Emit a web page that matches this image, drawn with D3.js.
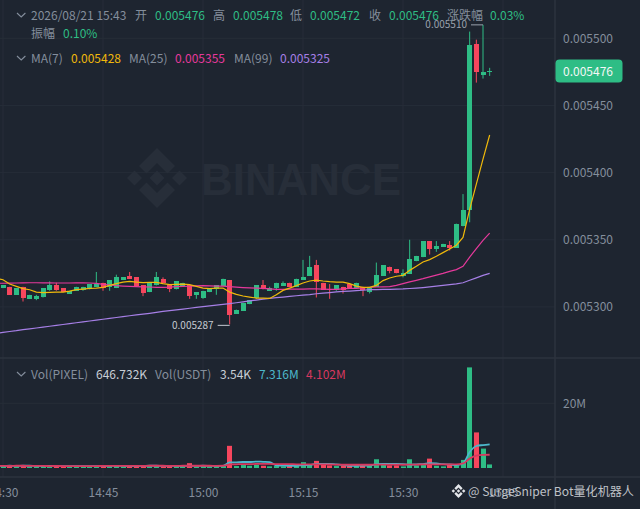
<!DOCTYPE html>
<html><head><meta charset="utf-8">
<script src="https://d3js.org/d3.v7.min.js"></script>
<style>
html,body{margin:0;padding:0;background:#1e2530;overflow:hidden}
svg{display:block}
text{font-family:"Noto Sans CJK SC","Noto Sans",sans-serif;font-size:12px}
</style></head><body><svg id="c" width="640" height="509"></svg>
<script>
// Prices are in units of 0.000001, one candle per minute from 14:29.
const candleOpen=[5316,5314,5315,5309,5315,5306,5306,5307,5312,5316,
5314,5310,5312,5313,5313,5315,5318,5315,5314,5320,
5323,5322,5316,5311,5316,5321,5316,5313,5316,5316,
5309,5307,5311,5313,5316,5320,5295,5297,5302,5306,
5316,5312,5314,5316,5318,5315,5320,5323,5331,5318,
5313,5312,5315,5317,5314,5315,5311,5315,5323,5330,
5328,5323,5325,5334,5337,5349,5343,5345,5346,5344,
5360,5372,5496,5473,5476];
const candleClose=[5316,5316,5309,5314,5307,5309,5308,5314,5316,5312,
5311,5312,5315,5315,5317,5317,5314,5320,5322,5322,
5321,5315,5310,5318,5322,5318,5313,5319,5318,5308,
5311,5312,5314,5316,5321,5294,5298,5303,5305,5316,
5313,5314,5318,5318,5315,5321,5322,5330,5318,5313,
5312,5316,5313,5314,5318,5313,5314,5324,5331,5327,
5325,5325,5336,5338,5349,5343,5345,5347,5344,5362,
5372,5495,5475,5475,5476];
const candleHigh=[5317,5316,5315,5314,5315,5309,5309,5314,5319,5318,
5314,5312,5315,5315,5317,5326,5318,5320,5324,5322,
5326,5322,5316,5318,5326,5322,5316,5319,5318,5316,
5311,5312,5314,5316,5321,5320,5298,5303,5305,5316,
5320,5315,5318,5319,5318,5321,5335,5338,5335,5318,
5317,5316,5315,5317,5318,5315,5314,5333,5331,5330,
5328,5328,5350,5338,5349,5349,5349,5347,5349,5362,
5384,5505,5499,5510,5478];
const candleLow=[5315,5314,5309,5309,5304,5306,5305,5307,5312,5312,
5311,5310,5312,5312,5313,5315,5312,5312,5314,5320,
5321,5315,5308,5311,5316,5318,5311,5313,5316,5306,
5306,5306,5311,5309,5316,5287,5295,5297,5302,5306,
5313,5312,5312,5316,5315,5315,5320,5323,5307,5313,
5306,5312,5310,5314,5314,5308,5310,5315,5323,5325,
5325,5322,5325,5334,5337,5339,5341,5345,5342,5344,
5360,5363,5467,5470,5472];
const ma7=[5321.3,5320.2,5317.0,5315.3,5313.6,5312.8,5311.0,5310.6,5310.8,5311.0,
5311.0,5311.8,5312.8,5313.3,5313.8,5314.0,5314.6,5316.0,5317.3,5318.5,
5319.0,5318.5,5318.1,5318.3,5318.3,5317.3,5316.6,5316.8,5317.0,5316.6,
5315.3,5314.0,5313.6,5314.0,5314.0,5311.0,5309.3,5308.1,5307.3,5306.6,
5306.6,5306.3,5309.1,5312.3,5314.0,5315.8,5317.8,5319.3,5320.0,5319.3,
5318.8,5318.5,5318.5,5317.3,5315.5,5314.6,5314.6,5316.0,5319.6,5321.5,
5322.8,5323.5,5327.2,5330.2,5333.4,5335.2,5337.7,5340.4,5343.1,5345.9,
5351.7,5372.6,5391.4,5410.0,5428.0];
const ma25=[5317.6,5317.6,5317.7,5317.8,5317.9,5318.0,5318.0,5317.9,5317.9,5317.8,
5317.8,5317.8,5317.9,5317.9,5317.8,5317.5,5316.8,5316.3,5315.8,5315.5,
5315.3,5315.1,5314.9,5314.8,5314.6,5314.6,5314.7,5315.1,5315.3,5315.4,
5315.7,5315.8,5315.7,5315.5,5315.5,5315.1,5314.7,5314.4,5314.2,5314.0,
5313.8,5313.4,5313.0,5313.0,5313.2,5313.3,5313.3,5313.4,5313.4,5313.3,
5313.0,5313.0,5313.4,5313.8,5313.8,5314.2,5314.6,5314.8,5314.9,5315.1,
5316.0,5317.3,5318.6,5319.8,5321.0,5322.4,5323.7,5325.0,5326.5,5327.8,
5330.2,5337.1,5343.4,5349.6,5355.0];
const ma99=[5280.4,5281.0,5281.7,5282.3,5283.1,5283.7,5284.3,5285.0,5285.6,5286.3,
5286.9,5287.5,5288.2,5288.9,5289.5,5290.2,5290.8,5291.4,5292.1,5292.7,
5293.4,5294.0,5294.6,5295.2,5295.9,5296.6,5297.2,5297.8,5298.4,5299.0,
5299.6,5300.2,5300.8,5301.3,5301.9,5302.5,5303.1,5303.8,5304.5,5305.1,
5305.8,5306.4,5306.9,5307.3,5307.8,5308.3,5308.8,5309.2,5309.8,5310.2,
5310.7,5311.2,5311.5,5311.8,5312.1,5312.4,5312.8,5312.9,5313.1,5313.1,
5313.3,5313.4,5313.7,5314.0,5314.4,5314.9,5315.4,5316.0,5316.6,5317.2,
5318.0,5319.8,5321.6,5323.5,5325.0];
// Volume in millions of USDT
const volume=[.5,.6,.7,.5,.9,.5,.4,.6,.6,.5,
.5,.4,.6,.4,.5,.6,.7,.6,.7,.4,
.5,.6,.8,.6,.6,.4,.6,.6,.4,1.5,
.4,.6,.5,.5,.6,6.85,.6,.9,.7,1,
.7,.5,.6,.5,.8,.9,1.8,1,2.2,1,
.8,.6,.7,.8,.6,.9,.7,2.7,1,.8,
.8,.5,2.7,.8,.9,2.9,.7,.5,1,.8,
2.5,31.1,11,6,1.1];
const volMaFast=[.65,.65,.7,.65,.7,.7,.6,.6,.65,.6,
.6,.55,.55,.6,.55,.55,.6,.65,.65,.65,
.6,.6,.65,.7,.7,.65,.65,.65,.6,.7,
.65,.7,.65,.6,.65,1.7,1.75,1.85,1.85,2,
1.9,1.8,.85,.75,.7,.7,.9,.95,1.3,1.3,
1.3,1.1,.95,.7,.7,.75,.75,1.2,1.25,1.25,
1.25,1.2,1,1.15,1.2,1.5,1.4,1.2,1.1,.9,
1.4,4.9,6.8,7.1,7.32];
const volMaSlow=[.65,.65,.65,.7,.7,.65,.65,.65,.6,.65,
.6,.6,.6,.6,.6,.6,.65,.65,.65,.65,
.65,.65,.65,.7,.7,.7,.65,.65,.7,.7,
.7,.7,.7,.65,.7,1.1,1.15,1.2,1.2,1.25,
1.25,1.25,1.2,1.2,1.2,1.15,1.15,1.15,1.15,1.1,
1.1,1.05,1,1,1,1,1,1.05,1.05,1.05,
1.05,1,1.05,1.05,1.1,1.1,1.1,1.1,1.1,1.1,
1.4,2.9,3.8,4.05,4.10];
const priceTicks=[5300,5350,5400,5450,5500];
const volumeTicks=[20];
const lastPrice=5476, lowMark=5287, highMark=5510;
const startMinute=Date.UTC(2026,7,21,14,29);
const times=candleOpen.map((_,i)=>new Date(startMinute+i*60000));

const GRID="#262d38",SEP="#2c333e",MUTED="#848e9c",UP="#2ebd85",DOWN="#f6465d",
 YEL="#f0b90b",PINK="#e5399b",PURP="#a67fe6",CY="#4db8cb",CR="#d8385f",LIGHT="#c9ced6";

const svg=d3.select("#c");
const x=d3.scaleUtc().domain([new Date(Date.UTC(2026,7,21,14,30)),new Date(Date.UTC(2026,7,21,15,45))]).range([3,503]);
const y=d3.scaleLinear().domain([5300,5500]).range([306.9,38.3]);
const v=d3.scaleLinear().domain([0,20]).range([468,403.3]);
const timeTicks=d3.utcMinute.every(15).range(new Date(Date.UTC(2026,7,21,14,30)),new Date(Date.UTC(2026,7,21,15,46)));

// grid
const g=svg.append("g");
g.selectAll(".gv").data(timeTicks).join("line").attr("x1",d=>x(d)).attr("x2",d=>x(d)).attr("y1",0).attr("y2",477).attr("stroke",GRID);
g.selectAll(".gp").data(priceTicks).join("line").attr("x1",0).attr("x2",555).attr("y1",d=>y(d)).attr("y2",d=>y(d)).attr("stroke",GRID);
g.selectAll(".gq").data(volumeTicks).join("line").attr("x1",0).attr("x2",555).attr("y1",d=>v(d)).attr("y2",d=>v(d)).attr("stroke",GRID);

// logo
function logo(parent,cx,cy,s,fill,op){
 const polys=[[[0,-30],[18,-12],[10.5,-4.5],[0,-15],[-10.5,-4.5],[-18,-12]],
  [[0,30],[18,12],[10.5,4.5],[0,15],[-10.5,4.5],[-18,12]],
  [[0,-7.5],[7.5,0],[0,7.5],[-7.5,0]],[[22.5,-7.5],[30,0],[22.5,7.5],[15,0]],[[-22.5,-7.5],[-15,0],[-22.5,7.5],[-30,0]]];
 const gg=parent.append("g").attr("transform",`translate(${cx},${cy}) scale(${s})`).attr("fill",fill).attr("opacity",op);
 polys.forEach(p=>gg.append("polygon").attr("points",p.map(q=>q.join(",")).join(" ")));
}
logo(svg,157,178,1,"#272e39",1);
svg.append("text").attr("x",201).attr("y",195).text("BINANCE").attr("fill","#272e39")
 .style("font-family","'Liberation Sans'").style("font-weight","700").style("font-size","45px")
 .attr("textLength",200).attr("lengthAdjust","spacingAndGlyphs");

// separators
svg.append("line").attr("x1",0).attr("x2",640).attr("y1",358).attr("y2",358).attr("stroke",SEP).attr("stroke-width",1.5);
svg.append("line").attr("x1",0).attr("x2",640).attr("y1",477).attr("y2",477).attr("stroke",SEP).attr("stroke-width",1.5);
svg.append("line").attr("x1",555).attr("x2",555).attr("y1",0).attr("y2",509).attr("stroke",SEP).attr("stroke-width",1.5);

// axes
function styleAxis(s){s.select(".domain").remove();s.selectAll("line").remove();s.selectAll("text").attr("fill",MUTED).style("font-size","12px")}
svg.append("g").attr("transform","translate(555,0)").call(d3.axisRight(y).tickValues(priceTicks).tickSize(0).tickPadding(8).tickFormat(d=>(d/1e6).toFixed(6))).call(styleAxis);
svg.append("g").attr("transform","translate(555,0)").call(d3.axisRight(v).tickValues(volumeTicks).tickSize(0).tickPadding(8).tickFormat(d=>d+"M")).call(styleAxis);
svg.append("g").attr("transform","translate(0,488)").call(d3.axisBottom(x).tickValues(timeTicks).tickSize(0).tickPadding(0).tickFormat(d3.utcFormat("%H:%M"))).call(styleAxis);

// volume
const idx=d3.range(times.length);
svg.append("g").selectAll("rect").data(idx).join("rect")
 .attr("x",i=>Math.round(x(times[i])-2.5)).attr("width",5)
 .attr("y",i=>v(volume[i])).attr("height",i=>v(0)-v(volume[i]))
 .attr("fill",i=>candleClose[i]>=candleOpen[i]?UP:DOWN);
const volLine=a=>d3.line().x((_,i)=>x(times[i])).y(d=>v(d)).curve(d3.curveMonotoneX)(a);
svg.append("path").attr("d",volLine(volMaFast)).attr("fill","none").attr("stroke",CY).attr("stroke-width",1.8);
svg.append("path").attr("d",volLine(volMaSlow)).attr("fill","none").attr("stroke",CR).attr("stroke-width",1.8);

// candles
const col=i=>candleClose[i]>=candleOpen[i]?UP:DOWN;
const cg=svg.append("g");
cg.selectAll(".w").data(idx).join("line").attr("x1",i=>x(times[i])).attr("x2",i=>x(times[i]))
 .attr("y1",i=>y(candleHigh[i])).attr("y2",i=>y(candleLow[i])).attr("stroke",col).attr("stroke-width",1);
cg.selectAll(".b").data(idx).join("rect").attr("x",i=>Math.round(x(times[i])-2.5)).attr("width",5)
 .attr("y",i=>Math.round(y(Math.max(candleOpen[i],candleClose[i]))))
 .attr("height",i=>Math.max(1,Math.round(Math.abs(y(candleOpen[i])-y(candleClose[i])))))
 .attr("fill",col);

// moving averages
const maLine=a=>d3.line().x((_,i)=>x(times[i])).y(d=>y(d))(a);
[[ma99,PURP],[ma25,PINK],[ma7,YEL]].forEach(([a,c])=>svg.append("path").attr("d",maLine(a)).attr("fill","none").attr("stroke",c).attr("stroke-width",1.2));

// high/low marks
const hi=candleHigh.indexOf(highMark), lo=candleLow.indexOf(lowMark);
svg.append("line").attr("x1",x(times[hi])-12).attr("x2",x(times[hi])).attr("y1",y(highMark)).attr("y2",y(highMark)).attr("stroke","#9aa1ac");
svg.append("text").attr("x",x(times[hi])-16).attr("y",y(highMark)+3).attr("text-anchor","end").attr("fill","#9aa1ac").style("font-size","10px").text((highMark/1e6).toFixed(6));
svg.append("line").attr("x1",x(times[lo])-12).attr("x2",x(times[lo])).attr("y1",y(lowMark)+1).attr("y2",y(lowMark)+1).attr("stroke","#c4c9d1");
svg.append("text").attr("x",x(times[lo])-16).attr("y",y(lowMark)+5).attr("text-anchor","end").attr("fill","#c4c9d1").style("font-size","10px").text((lowMark/1e6).toFixed(6));

// price tag
svg.append("rect").attr("x",555.5).attr("y",59.5).attr("width",67).attr("height",23).attr("rx",4).attr("fill",UP);
svg.append("text").attr("x",563).attr("y",75.5).attr("fill","#f4f7f6").text((lastPrice/1e6).toFixed(6));

// header
function t(px,py,s,c){svg.append("text").attr("x",px).attr("y",py).attr("fill",c).text(s)}
function chev(py){svg.append("path").attr("d",`M17 ${py-2}L21.2 ${py+2}L25.4 ${py-2}`).attr("fill","none").attr("stroke",MUTED).attr("stroke-width",1.1)}
chev(15);chev(58);chev(374);
const headerRow=[[31,"2026/08/21 15:43",MUTED],[135,"开",MUTED],[155,"0.005476",UP],[213,"高",MUTED],[233,"0.005478",UP],[290,"低",MUTED],[310,"0.005472",UP],[369,"收",MUTED],[389,"0.005476",UP],[447,"涨跌幅",MUTED],[490,"0.03%",UP]];
headerRow.forEach(r=>t(r[0],20,r[1],r[2]));
t(31,38,"振幅",MUTED);t(63,38,"0.10%",UP);
[[31,"MA(7)",MUTED],[71,"0.005428",YEL],[129,"MA(25)",MUTED],[175,"0.005355",PINK],[234,"MA(99)",MUTED],[280,"0.005325",PURP]].forEach(r=>t(r[0],63,r[1],r[2]));
[[31,"Vol(PIXEL)",MUTED],[96,"646.732K",LIGHT],[155,"Vol(USDT)",MUTED],[220,"3.54K",LIGHT],[259,"7.316M",CY],[306,"4.102M",CR]].forEach(r=>t(r[0],379,r[1],r[2]));

// footer watermark
logo(svg,458.5,491,.23,"#e4e6ea",1);
svg.append("text").attr("x",468).attr("y",495.5).attr("fill","#d0d3d8").attr("opacity",.9).style("font-size","12.1px").text("@ SurgeSniper Bot量化机器人");
</script></body></html>
